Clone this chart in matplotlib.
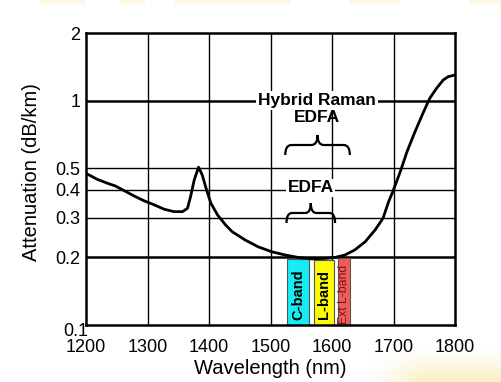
import numpy as np
import matplotlib
matplotlib.use('Agg')
import matplotlib.pyplot as plt
from matplotlib.path import Path
from matplotlib.patches import PathPatch, Rectangle
import matplotlib.transforms as mtrans

plt.rcParams['font.family'] = ['Liberation Sans', 'DejaVu Sans']

# attenuation curve
wl = [1200, 1218, 1235, 1248, 1262, 1278, 1294, 1311, 1327, 1343, 1357, 1365,
      1370, 1376, 1383, 1389, 1396, 1403, 1414, 1427, 1438, 1442, 1459, 1480,
      1502, 1524, 1545, 1567, 1589, 1605, 1621, 1637, 1654, 1670, 1683, 1692,
      1700, 1711, 1722, 1735, 1749, 1759, 1770, 1781, 1789, 1800]
att = [0.474, 0.446, 0.428, 0.416, 0.397, 0.376, 0.358, 0.343, 0.328, 0.320, 0.320, 0.331,
       0.373, 0.443, 0.505, 0.466, 0.400, 0.349, 0.309, 0.279, 0.260, 0.256, 0.239, 0.223,
       0.212, 0.205, 0.200, 0.197, 0.198, 0.200, 0.205, 0.216, 0.235, 0.265, 0.299, 0.354,
       0.400, 0.482, 0.592, 0.727, 0.892, 1.024, 1.134, 1.236, 1.278, 1.300]

# amplifier bands
band_names = ['C-band', 'L-band', 'Ext L-band']
band_lo = [1527, 1570, 1610]
band_hi = [1563, 1603, 1629]
band_top = [0.196, 0.195, 0.199]
band_colors = ['#16ecf2', '#fdfd00', '#ef5d5b']
band_text_colors = ['black', 'black', '#7d1414']
band_bold = ['bold', 'bold', 'normal']

xticks = [1200, 1300, 1400, 1500, 1600, 1700, 1800]
yticks = [0.1, 0.2, 0.3, 0.4, 0.5, 1, 2]
ytick_labels = ['0.1', '0.2', '0.3', '0.4', '0.5', '1', '2']

fig = plt.figure(figsize=(5.01, 3.82), dpi=100)
fig.patch.set_facecolor('white')

# faint yellow background decoration
H, W = 382, 501
bg = np.zeros((H, W, 4))
bg[..., 0], bg[..., 1], bg[..., 2] = 0.98, 0.90, 0.62
yy, xx = np.mgrid[0:H, 0:W]
alpha = np.zeros((H, W))
for x0, x1 in [(40, 85), (120, 145), (175, 290), (350, 400), (470, 501)]:
    m = (xx >= x0) & (xx < x1) & (yy < 6)
    alpha[m] = 0.35 * (1 - yy[m] / 6)
br = np.clip((xx - 372) / 50, 0, 1) * np.clip((yy - 348) / 30, 0, 1) * 0.55
alpha = np.maximum(alpha, br)
bg[..., 3] = alpha
fig.figimage(bg, xo=0, yo=0, origin='upper', zorder=0)

ax = fig.add_axes([86 / 501, 57 / 382, 369 / 501, 292 / 382])
ax.set_yscale('log')
ax.set_xlim(1200, 1800)
ax.set_ylim(0.1, 2)
ax.set_facecolor('white')

# grid
for x in xticks[1:-1]:
    ax.axvline(x, color='black', lw=1.0, zorder=1)
for y in [0.3, 0.4, 0.5]:
    ax.axhline(y, color='black', lw=1.0, zorder=1)
for y in [0.2, 1]:
    ax.axhline(y, color='black', lw=1.8, zorder=1)

# bands
for lo, hi, top, c, name, tc, fw in zip(band_lo, band_hi, band_top, band_colors,
                                        band_names, band_text_colors, band_bold):
    ax.add_patch(Rectangle((lo, 0.1), hi - lo, top - 0.1, facecolor=c,
                           edgecolor='#555555', lw=0.8, zorder=2))
    fs = 10.5 if fw == 'bold' else 8.8
    ax.text((lo + hi) / 2, 0.137, name, rotation=90, ha='center', va='center',
            fontsize=fs, fontweight=fw, color=tc, zorder=3)

ax.plot(wl, att, color='black', lw=2.0, zorder=4, solid_capstyle='round',
        solid_joinstyle='round')

bl = mtrans.blended_transform_factory(ax.transData, ax.transAxes)


def yax(px):
    return (325 - px) / 292


# labels with white background over grid lines
ax.text(1575, 1.0, 'Hybrid Raman', ha='center', va='center', fontsize=12.5,
        fontweight='bold', zorder=5,
        bbox=dict(facecolor='white', edgecolor='none', pad=1.5))
ax.text(1575, yax(117), 'EDFA', ha='center', va='center', fontsize=12.5,
        fontweight='bold', zorder=5, transform=bl)
ax.text(1565, yax(188), 'EDFA', ha='center', va='center', fontsize=12.5,
        fontweight='bold', zorder=5, transform=bl,
        bbox=dict(facecolor='white', edgecolor='none', pad=1.0))


def brace(x0, x1, yb, yt, r):
    xm = (x0 + x1) / 2
    ym = (yb + yt) / 2
    verts = [(x0, yb), (x0, ym), (x0 + r, ym), (xm - r, ym), (xm, ym), (xm, yt),
             (xm, ym), (xm + r, ym), (x1 - r, ym), (x1, ym), (x1, yb)]
    codes = [Path.MOVETO, Path.CURVE3, Path.CURVE3, Path.LINETO, Path.CURVE3, Path.CURVE3,
             Path.CURVE3, Path.CURVE3, Path.LINETO, Path.CURVE3, Path.CURVE3]
    ax.add_patch(PathPatch(Path(verts, codes), transform=bl, fill=False,
                           lw=1.6, color='black', zorder=5))


brace(1524, 1629, yax(155), yax(135), 10)
brace(1526, 1605, yax(223), yax(203), 9)

ax.set_xticks(xticks)
ax.set_xticklabels([str(x) for x in xticks])
ax.set_yticks(yticks)
ax.set_yticklabels(ytick_labels)
ax.yaxis.set_minor_locator(matplotlib.ticker.NullLocator())
ax.tick_params(axis='both', length=0, labelsize=13)
ax.tick_params(axis='x', pad=10)
ax.tick_params(axis='y', pad=4)
lab = ax.get_yticklabels()[0]
lab.set_transform(lab.get_transform() + mtrans.ScaledTranslation(8 / 100, -4 / 100, fig.dpi_scale_trans))

for s in ax.spines.values():
    s.set_linewidth(1.8)
    s.set_zorder(6)

ax.set_xlabel('Wavelength (nm)', fontsize=14.5, labelpad=2)
ax.set_ylabel('Attenuation (dB/km)', fontsize=14.5, va='center')
ax.yaxis.set_label_coords((32 - 86) / 369, (325 - 172) / 292)

fig.savefig('out.png', dpi=100)
